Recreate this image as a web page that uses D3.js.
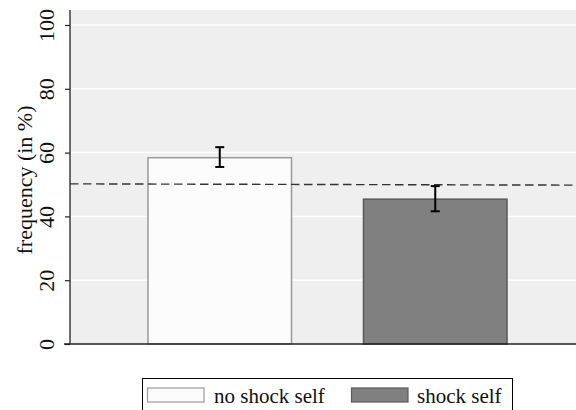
<!DOCTYPE html>
<html>
<head>
<meta charset="utf-8">
<script src="https://cdnjs.cloudflare.com/ajax/libs/d3/7.8.5/d3.min.js"></script>
<style>
  body { margin: 0; background: #fff; }
  svg text { font-family: "Liberation Serif", "DejaVu Serif", serif; }
</style>
</head>
<body>
<div id="chart"></div>
<script>
// data
var groups = ["no shock self", "shock self"];
var freq = [58.4, 45.4];
var errLo = [55.5, 41.6];
var errHi = [61.7, 49.5];
var refLine = [50.2, 49.8];   // dashed line, left end / right end
var yTicks = [0, 20, 40, 60, 80, 100];

var W = 576, H = 410;
var pLeft = 70, pRight = 576, pTop = 10, pBottom = 344;

var svg = d3.select("#chart").append("svg")
  .attr("width", W).attr("height", H);

var y = d3.scaleLinear().domain([0, 104.7]).range([pBottom, pTop]);
var x = d3.scaleBand().domain(groups).range([112, 543])
  .paddingInner(0.334).paddingOuter(0.167);

var fills = ["#fcfcfc", "#808080"];
var strokes = ["#9a9a9a", "#5a5a5a"];

// plot background
svg.append("rect")
  .attr("x", pLeft).attr("y", pTop)
  .attr("width", pRight - pLeft).attr("height", pBottom - pTop)
  .attr("fill", "#efefef");

// grid
svg.append("g").selectAll("line")
  .data(yTicks.filter(function(d){ return d > 0; }))
  .enter().append("line")
  .attr("x1", pLeft).attr("x2", pRight)
  .attr("y1", function(d){ return y(d); })
  .attr("y2", function(d){ return y(d); })
  .attr("stroke", "#fff").attr("stroke-width", 1.5);

// bars
svg.append("g").selectAll("rect")
  .data(groups).enter().append("rect")
  .attr("x", function(d){ return x(d); })
  .attr("y", function(d, i){ return y(freq[i]); })
  .attr("width", x.bandwidth())
  .attr("height", function(d, i){ return y(0) - y(freq[i]); })
  .attr("fill", function(d, i){ return fills[i]; })
  .attr("stroke", function(d, i){ return strokes[i]; })
  .attr("stroke-width", 1.5);

// dashed reference line
svg.append("line")
  .attr("x1", pLeft).attr("x2", pRight)
  .attr("y1", y(refLine[0])).attr("y2", y(refLine[1]))
  .attr("stroke", "#333").attr("stroke-width", 1.4)
  .attr("stroke-dasharray", "8.5,4.5");

// error bars
var eb = svg.append("g").attr("stroke", "#000").attr("stroke-width", 2);
groups.forEach(function(g, i){
  var cx = x(g) + x.bandwidth() / 2;
  eb.append("line").attr("x1", cx).attr("x2", cx)
    .attr("y1", y(errLo[i])).attr("y2", y(errHi[i]));
  eb.append("line").attr("x1", cx - 4.5).attr("x2", cx + 4.5)
    .attr("y1", y(errLo[i])).attr("y2", y(errLo[i]));
  eb.append("line").attr("x1", cx - 4.5).attr("x2", cx + 4.5)
    .attr("y1", y(errHi[i])).attr("y2", y(errHi[i]));
});

// y axis
var yAxis = svg.append("g")
  .attr("transform", "translate(" + pLeft + ",0)")
  .attr("font-family", "Liberation Serif")
  .call(d3.axisLeft(y).tickValues(yTicks).tickSize(5).tickPadding(0));
yAxis.attr("font-family", "Liberation Serif");
yAxis.select(".domain").attr("d", "M0," + pTop + "V" + pBottom)
  .attr("stroke", "#222").attr("stroke-width", 1.3);
yAxis.selectAll(".tick line").attr("stroke", "#222").attr("stroke-width", 1.2);
yAxis.selectAll(".tick text")
  .style("font-family", "'Liberation Serif', serif")
  .attr("font-size", 22).attr("fill", "#111")
  .attr("text-anchor", "middle")
  .attr("x", 0).attr("dy", 0)
  .attr("transform", "translate(-16,0) rotate(-90)");

// x axis line
svg.append("line")
  .attr("x1", pLeft - 6).attr("x2", pRight)
  .attr("y1", pBottom).attr("y2", pBottom)
  .attr("stroke", "#222").attr("stroke-width", 1.3);

// axis title
svg.append("text")
  .attr("transform", "translate(32,180) rotate(-90)")
  .attr("text-anchor", "middle")
  .attr("font-size", 22).attr("fill", "#111")
  .text("frequency (in %)");

// legend
var lg = svg.append("g");
lg.append("rect")
  .attr("x", 142.5).attr("y", 378.5)
  .attr("width", 370).attr("height", 50)
  .attr("fill", "#fff").attr("stroke", "#000").attr("stroke-width", 1);
var keyX = [147.5, 351.5], textX = [214, 417];
groups.forEach(function(g, i){
  lg.append("rect")
    .attr("x", keyX[i]).attr("y", 388)
    .attr("width", 56.5).attr("height", 14)
    .attr("fill", fills[i]).attr("stroke", strokes[i]).attr("stroke-width", 1.2);
  lg.append("text")
    .attr("x", textX[i]).attr("y", 402.5)
    .attr("font-size", 21).attr("fill", "#111")
    .text(g);
});
</script>
</body>
</html>
